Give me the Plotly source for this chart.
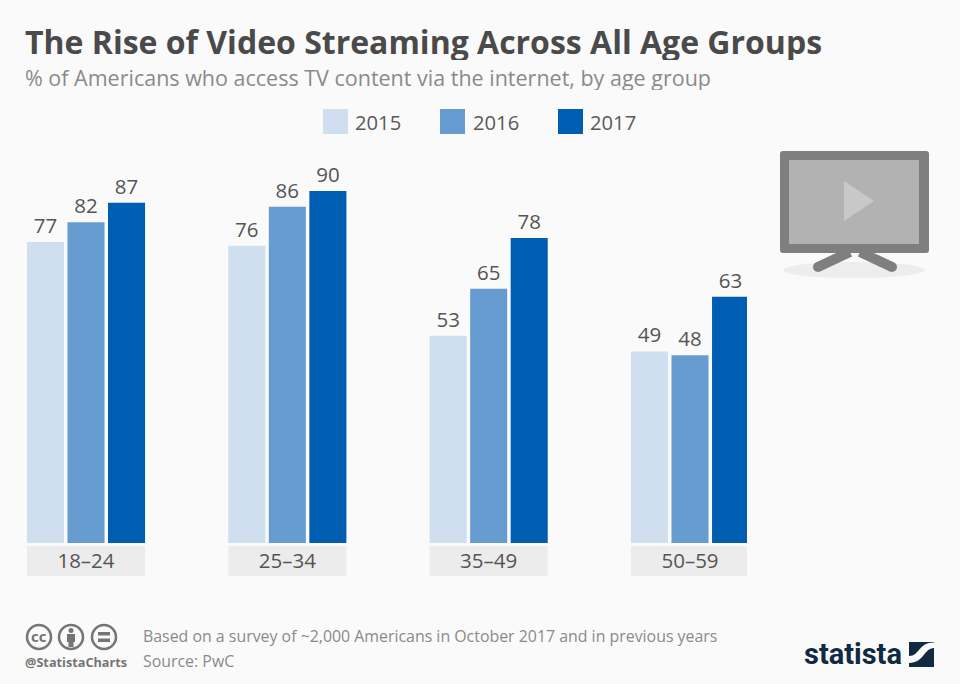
import plotly.graph_objects as go

age_groups = ['18–24', '25–34', '35–49', '50–59']
years = ['2015', '2016', '2017']
values_2015 = [77, 76, 53, 49]
values_2016 = [82, 86, 65, 48]
values_2017 = [87, 90, 78, 63]
year_colors = ['#cfdff0', '#669ccf', '#005eb2']

title = 'The Rise of Video Streaming Across All Age Groups'
subtitle = '% of Americans who access TV content via the internet, by age group'
note = 'Based on a survey of ~2,000 Americans in October 2017 and in previous years'
source = 'Source: PwC'

# plot area in pixels, everything decorative below is placed relative to it
LEFT, RIGHT, TOP, BOTTOM = 27, 747, 150, 543
W, H = 960, 684


def px(x):
    return (x - LEFT) / (RIGHT - LEFT)


def py(y):
    return (BOTTOM - y) / (BOTTOM - TOP)


def rect(x0, y0, x1, y1, color):
    return dict(type='rect', xref='paper', yref='paper', x0=px(x0), x1=px(x1), y0=py(y0), y1=py(y1),
                fillcolor=color, line_width=0, layer='above')


def oval(x0, y0, x1, y1, fill='rgba(0,0,0,0)', line=None, width=0):
    return dict(type='circle', xref='paper', yref='paper', x0=px(x0), x1=px(x1), y0=py(y0), y1=py(y1),
                fillcolor=fill, line=dict(color=line or fill, width=width), layer='above')


def seg(x0, y0, x1, y1, color, width):
    return dict(type='line', xref='paper', yref='paper', x0=px(x0), x1=px(x1), y0=py(y0), y1=py(y1),
                line=dict(color=color, width=width), layer='above')


def poly(points, color, close=True):
    d = 'M' + ' L'.join(f'{px(a):.5f},{py(b):.5f}' for a, b in points) + (' Z' if close else '')
    return dict(type='path', xref='paper', yref='paper', path=d, fillcolor=color, line_width=0, layer='above')


def text(x, y, s, size, color, family='Open Sans', anchor='left', bold=False, **kw):
    return dict(xref='paper', yref='paper', x=px(x), y=py(y), text=f'<b>{s}</b>' if bold else s,
                showarrow=False, xanchor=anchor, yanchor='middle', borderpad=0,
                font=dict(family=family, size=size, color=color), **kw)


fig = go.Figure()
for year, vals, color in zip(years, [values_2015, values_2016, values_2017], year_colors):
    fig.add_bar(x=age_groups, y=vals, name=year, marker_color=color, marker_line_width=0,
                text=vals, textposition='outside', cliponaxis=False,
                textfont=dict(family='Open Sans', size=20.5, color='#555555'))

shapes = []
# grey boxes behind the category labels
for i in range(len(age_groups)):
    shapes.append(dict(type='rect', xref='x', yref='paper', x0=i - 0.293, x1=i + 0.293,
                       y0=py(576), y1=py(546), fillcolor='#ececec', line_width=0, layer='below'))

# legend
annotations = []
for year, color, sx, tx in zip(years, year_colors, [323, 440, 558], [354, 472, 589]):
    shapes.append(rect(sx, 109, sx + 25, 134, color))
    annotations.append(text(tx, 122, year, 20.2, '#5a5a5a'))

# tv icon
shapes.append(oval(783, 262, 925, 278, '#ededed'))
shapes.append(dict(type='path', xref='paper', yref='paper', fillcolor='#7f7f7f', line_width=0, layer='above',
                   path=f'M{px(783):.5f},{py(151):.5f} L{px(926):.5f},{py(151):.5f} '
                        f'Q{px(929):.5f},{py(151):.5f} {px(929):.5f},{py(154):.5f} '
                        f'L{px(929):.5f},{py(250):.5f} Q{px(929):.5f},{py(253):.5f} {px(926):.5f},{py(253):.5f} '
                        f'L{px(783):.5f},{py(253):.5f} Q{px(780):.5f},{py(253):.5f} {px(780):.5f},{py(250):.5f} '
                        f'L{px(780):.5f},{py(154):.5f} Q{px(780):.5f},{py(151):.5f} {px(783):.5f},{py(151):.5f} Z'))
shapes.append(rect(789, 160, 919, 244, '#b2b2b2'))
shapes.append(poly([(844, 181), (844, 221), (874, 201)], '#c8c8c8'))
shapes.append(seg(850, 252, 818, 267, '#7f7f7f', 10))
shapes.append(seg(860, 252, 892, 267, '#7f7f7f', 10))
shapes.append(oval(813, 262, 823, 272, '#7f7f7f'))
shapes.append(oval(887, 262, 897, 272, '#7f7f7f'))

# cc badges
badge = '#757575'
for cx in [39, 71, 104]:
    shapes.append(oval(cx - 12, 625, cx + 12, 649, line=badge, width=2.5))
annotations.append(text(39, 636, 'cc', 15, badge, bold=True, anchor='center'))
shapes.append(oval(68.5, 628, 73.5, 633, badge))
shapes.append(rect(67, 634, 75, 642, badge))
shapes.append(rect(68.5, 642, 73.5, 647, badge))
shapes.append(rect(98, 632, 110, 635.5, badge))
shapes.append(rect(98, 638.5, 110, 642, badge))

# statista mark
shapes.append(rect(909, 642, 934, 667, '#0f2a42'))
shapes.append(dict(type='path', xref='paper', yref='paper', fillcolor='#fafafa', line_width=0, layer='above',
                   path=f'M{px(909):.5f},{py(656):.5f} C{px(920):.5f},{py(656):.5f} {px(918):.5f},{py(642.5):.5f} '
                        f'{px(934):.5f},{py(642.5):.5f} L{px(934):.5f},{py(648):.5f} '
                        f'C{px(924):.5f},{py(648):.5f} {px(924):.5f},{py(663):.5f} {px(909):.5f},{py(663):.5f} Z'))

annotations += [
    text(24, 41, title, 32, '#4a4a4a', bold=True, height=38),
    text(24, 77, subtitle, 21.5, '#8a8a8a', height=26),
    text(142, 636, note, 15.9, '#8a8a8a'),
    text(142, 661, source, 15.9, '#8a8a8a'),
    text(24, 662, '@StatistaCharts', 12.7, '#757575', bold=True),
    text(803, 654, 'statista', 29, '#0f2a42', family='Roboto', bold=True),
]

fig.update_layout(
    width=W, height=H, autosize=False,
    barmode='group', bargap=0.396, bargroupgap=0.086, showlegend=False,
    paper_bgcolor='#fafafa', plot_bgcolor='#fafafa',
    margin=dict(l=LEFT, r=W - RIGHT, t=TOP, b=H - BOTTOM, autoexpand=False),
    shapes=shapes, annotations=annotations,
    xaxis=dict(type='category', categoryorder='array', categoryarray=age_groups, range=[-0.293, 3.283],
               showgrid=False, zeroline=False, showline=False, ticks='', ticklabelstandoff=3,
               tickfont=dict(family='Open Sans', size=20.5, color='#555555')),
    yaxis=dict(range=[0, 100.5], visible=False),
)

# the page's default body margin would push the figure 8px off
fig.write_html('out.html', config={'displayModeBar': False},
               post_script="document.body.style.margin='0';document.body.style.background='#fafafa';"
                           "window.dispatchEvent(new Event('resize'));")
